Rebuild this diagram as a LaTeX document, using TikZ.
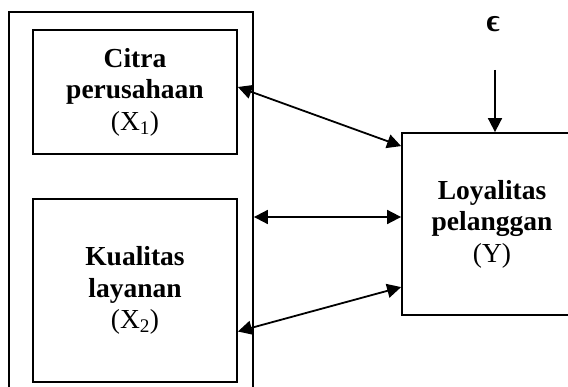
\documentclass[tikz,border=0pt]{standalone}
\usepackage{fontspec}
\setmainfont{Liberation Serif}
\usepackage{tikz}
\usetikzlibrary{arrows.meta}

\begin{document}
\begin{tikzpicture}[x=1pt, y=-1pt, line width=1.8pt,
	box/.style={draw, shape=rectangle, align=center, inner sep=0pt, font=\fontsize{27.5}{31.5}\selectfont},
	link/.style={-{Triangle[length=14pt,width=14pt]}},
	both/.style={{Triangle[length=14pt,width=14pt]}-{Triangle[length=14pt,width=14pt]}}]
		\useasboundingbox (0,0) rectangle (568,387);
		\path (131,210) node[box, minimum width=244, minimum height=396] (grp) {}
		(135,92) node[box, minimum width=204, minimum height=124] (x1) {\textbf{Citra}\\\textbf{perusahaan}\\(X\textsubscript{1})}
		(135,290.5) node[box, minimum width=204, minimum height=183] (x2) {\textbf{Kualitas}\\\textbf{layanan}\\(X\textsubscript{2})}
		(492,224) node[box, minimum width=180, minimum height=182] (ly) {\textbf{Loyalitas}\\\textbf{pelanggan}\\(Y)}
		(493,24) node[font=\fontsize{32}{36}\selectfont] (eps) {\textbf{ϵ}};
		\coordinate (e0) at (495,70);

		\draw[both] ([yshift=5pt]x1.east) -- ([yshift=-14pt]ly.north west);
		\draw[both] (grp.east |- 0,217) -- (ly.west |- 0,217);
		\draw[both] ([yshift=-41pt]x2.east) -- ([yshift=-155pt]ly.north west);
		\draw[link] (e0) -- (e0 |- ly.north);

	\end{tikzpicture}
\end{document}
